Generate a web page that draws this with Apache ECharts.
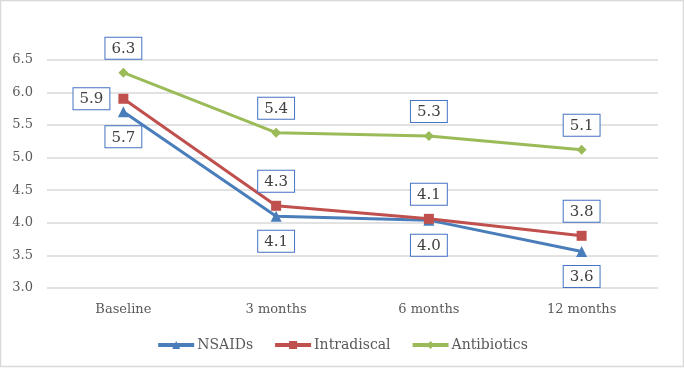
<!DOCTYPE html>
<html>
<head>
<meta charset="utf-8">
<script src="https://cdn.jsdelivr.net/npm/echarts@6/dist/echarts.min.js"></script>
<style>
  html, body { margin: 0; padding: 0; background: #fff; }
  #chart { width: 684px; height: 368px; }
</style>
</head>
<body>
<div id="chart"></div>
<script>
  const categories = ['Baseline', '3 months', '6 months', '12 months']
  const nsaids = [5.7, 4.1, 4.04, 3.56]
  const intradiscal = [5.9, 4.26, 4.06, 3.8]
  const antibiotics = [6.3, 5.38, 5.33, 5.12]
  // label side for each point
  const nsaidsPos = ['bottom', 'bottom', 'bottom', 'bottom']
  const intradiscalPos = ['left', 'top', 'top', 'top']
  const antibioticsPos = ['top', 'top', 'top', 'top']

  const FONT = '"DejaVu Serif", "Liberation Serif", serif'

  function lineSeries(name, data, color, symbol, size, positions) {
    return {
      name,
      type: 'line',
      data: data.map((v, i) => ({
        value: v,
        label: { position: positions[i] }
      })),
      symbol,
      symbolSize: size,
      lineStyle: { color, width: 3 },
      itemStyle: { color },
      label: {
        show: true,
        formatter: p => p.value.toFixed(1),
        color: '#404040',
        fontFamily: FONT,
        fontSize: 15,
        backgroundColor: '#fff',
        borderColor: '#4472c4',
        borderWidth: 1,
        padding: [4, 6, 2, 6],
        distance: 9
      },
      animation: false
    }
  }

  const chart = echarts.init(document.getElementById('chart'))
  chart.setOption({
    graphic: [{
      type: 'rect',
      shape: { x: 0.5, y: 0.5, width: 683, height: 366 },
      style: { fill: 'none', stroke: '#d9d9d9', lineWidth: 1.5 },
      silent: true
    }],
    grid: {
      left: 47,
      right: 26,
      top: 27,
      bottom: 80
    },
    xAxis: {
      type: 'category',
      data: categories,
      axisTick: { show: false },
      axisLine: { show: false },
      axisLabel: {
        color: '#595959',
        fontFamily: FONT,
        fontSize: 13,
        margin: 15
      }
    },
    yAxis: {
      type: 'value',
      min: 3,
      max: 7,
      interval: 0.5,
      axisLabel: {
        color: '#595959',
        fontFamily: FONT,
        fontSize: 13,
        margin: 14,
        formatter: v => (v === 7 ? '' : v.toFixed(1))
      },
      splitLine: {
        lineStyle: { color: '#d9d9d9', width: 1.5 },
        showMaxLine: false
      },
      axisLine: { show: false },
      axisTick: { show: false }
    },
    legend: {
      bottom: 11,
      left: 'center',
      itemWidth: 36,
      itemHeight: 10,
      itemGap: 20,
      lineStyle: { width: 4 },
      textStyle: { color: '#595959', fontFamily: FONT, fontSize: 14, padding: [0, 0, 0, -2] },
      data: ['NSAIDs', 'Intradiscal', 'Antibiotics']
    },
    series: [
      lineSeries('NSAIDs', nsaids, '#4a7ebb', 'triangle', 11, nsaidsPos),
      lineSeries('Intradiscal', intradiscal, '#c0504d', 'rect', 10, intradiscalPos),
      lineSeries('Antibiotics', antibiotics, '#9bbb59', 'diamond', 10, antibioticsPos)
    ]
  })
</script>
</body>
</html>
